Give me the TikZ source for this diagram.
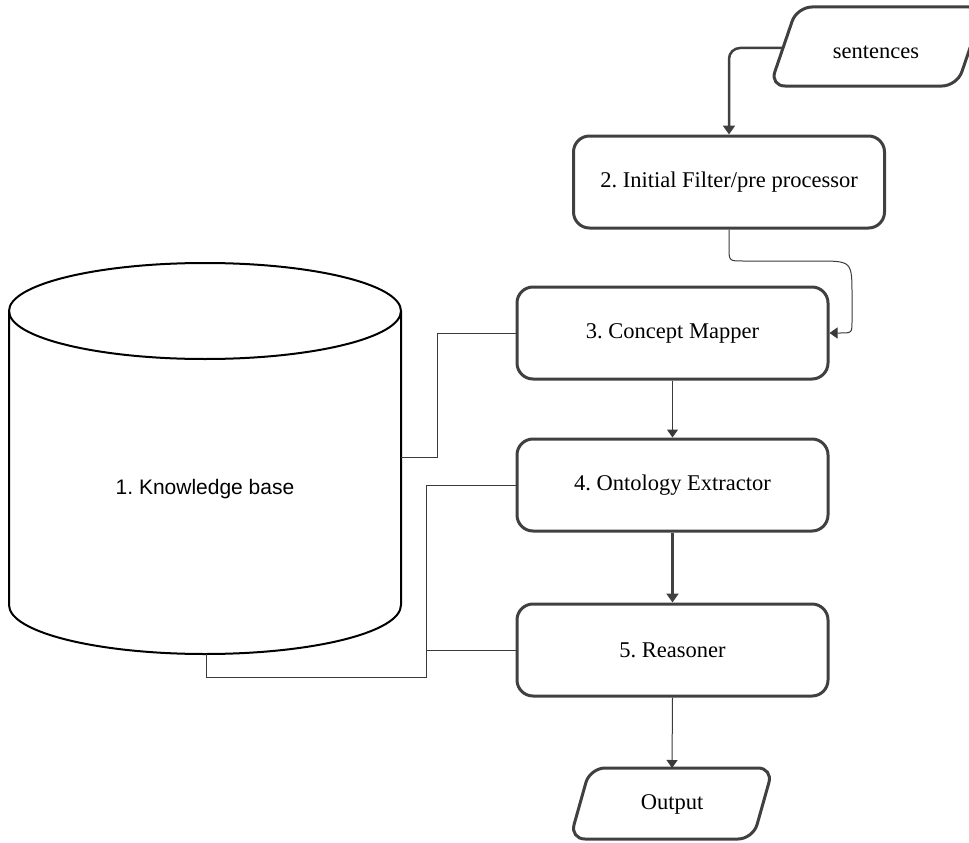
\documentclass[tikz,border=0pt]{standalone}
\usepackage{fontspec}
\setmainfont{Liberation Serif}
\newfontfamily\kbfont{Liberation Sans}
\usetikzlibrary{arrows.meta}
\definecolor{edge}{HTML}{404040}
\definecolor{thin}{HTML}{3A3A3A}
\frenchspacing
\begin{document}
\begin{tikzpicture}[x=1pt,y=-1pt,
  box/.style={draw=edge, line width=3pt, rounded corners=16pt, minimum width=311pt, minimum height=92pt, inner sep=0pt, font=\fontsize{22.5}{27}\selectfont},
  io/.style={draw=edge, line width=3pt, rounded corners=15pt},
  label/.style={inner sep=0pt, font=\fontsize{22.5}{27}\selectfont},
  thinline/.style={draw=thin, line width=1pt},
  thinarrow/.style={draw=thin, line width=1pt, -{Triangle[width=11pt,length=8pt]}},
  thickarrow/.style={draw=edge, line width=2.5pt, -{Triangle[width=12pt,length=9pt]}}
]
\useasboundingbox (0,0) rectangle (969,843);

% Knowledge base cylinder
\draw[line width=2pt, black] (9,311) -- (9,605) arc[start angle=180, end angle=360, x radius=196, y radius=-49] -- (401,311);
\draw[line width=2pt, black] (205,311) ellipse[x radius=196, y radius=48];
\node[inner sep=0pt, font=\kbfont\fontsize{21}{25}\selectfont] (kb) at (205,489) {1. Knowledge base};
\coordinate (kbe) at (401,457);
\coordinate (kbs) at (206,654);

% sentences
\draw[io] (797,7) -- (984,7) -- (957,86) -- (770,86) -- cycle;
\node[label] (sent) at (876,52) {sentences};
\coordinate (sin) at (783,48);

% boxes
\node[box] (b2) at (729,182) {2. Initial Filter/pre processor};
\node[box] (b3) at (672.5,333) {3. Concept Mapper};
\node[box] (b4) at (672.5,485) {4. Ontology Extractor};
\node[box] (b5) at (672.5,650) {5. Reasoner};

% output
\draw[io] (590,768) -- (773,768) -- (753,839) -- (570,839) -- cycle;
\node[label] (outp) at (672,804) {Output};
\coordinate (otop) at (672,768);

% connectors
\draw[thickarrow, rounded corners=11pt] (sin) -- (729,48) -- (b2.north);
\draw[thinarrow] (b2.south) -- (729,247) .. controls (729,261) .. (743,261) -- (817,261) .. controls (852,261) .. (852,296) -- (852,321) .. controls (852,333) .. (840,333) -- (b3.east);
\draw[thinarrow] (b3.south) -- (b4.north);
\draw[thickarrow] (b4.south) -- (b5.north);
\draw[thinarrow] (b5.south) -- (otop);

\draw[thinline] (kbe) -- (437,457) -- (437,333) -- (b3.west);
\draw[thinline] (kbs) -- (206,677) -- (426,677) -- (426,485) -- (b4.west);
\draw[thinline] (426,650) -- (b5.west);
\end{tikzpicture}
\end{document}
